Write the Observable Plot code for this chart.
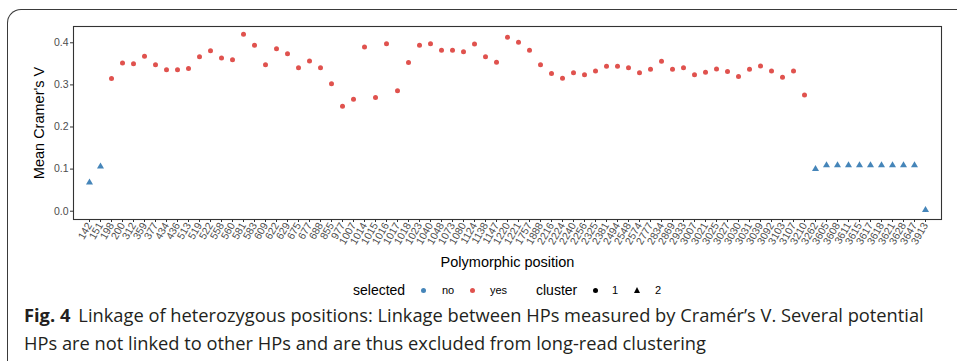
<!DOCTYPE html>
<html>
<head>
<meta charset="utf-8">
<script src="https://cdn.jsdelivr.net/npm/d3@7"></script>
<script src="https://cdn.jsdelivr.net/npm/@observablehq/plot@0.6"></script>
<style>
  html, body { margin: 0; padding: 0; background: #fff; }
  #page { position: relative; width: 957px; height: 361px; overflow: hidden; background: #fff; }
  #frame { position: absolute; left: 7px; top: 9px; width: 1000px; height: 400px;
           border-left: 1.2px solid #3a3a3a; border-top: 1.2px solid #3a3a3a; border-top-left-radius: 14px; }
  #chart { position: absolute; left: 0; top: 0; }
  #legend { position: absolute; left: 0; top: 280px; width: 957px; height: 20px;
            font-family: "Liberation Sans", Arial, sans-serif; color: #000; }
  #legend span { position: absolute; white-space: nowrap; }
  .ltitle { font-size: 14px; top: 2px; }
  .llab { font-size: 11px; top: 4px; }
  .ldot { width: 5px; height: 5px; border-radius: 50%; top: 8px; }
  .ltri { width: 0; height: 0; border-left: 3.4px solid transparent; border-right: 3.4px solid transparent; border-bottom: 6px solid #000; top: 7px; }
  #caption { position: absolute; left: 24px; top: 301px; font-family: "Open Sans", "Noto Sans", sans-serif;
             font-size: 18.3px; line-height: 27.5px; color: #231f20; white-space: nowrap; }
  #caption b { font-weight: 700; margin-right: 8px; }
</style>
</head>
<body>
<div id="page">
  <div id="frame"></div>
  <div id="chart"></div>
  <div id="legend"></div>
  <div id="caption"></div>
</div>
<script>
const positions = ["142","151","198","200","312","359","377","434","436","513","519","522","558","560","581","583","609","622","629","675","677","688","855","977","1007","1014","1015","1016","1017","1018","1023","1040","1048","1073","1080","1124","1138","1147","1220","1221","1757","1888","2216","2224","2240","2256","2325","2381","2494","2548","2574","2777","2834","2869","2933","3007","3021","3025","3027","3030","3031","3039","3092","3103","3107","3210","3262","3605","3608","3611","3615","3617","3618","3621","3628","3647","3913"];

const meanV = [0.068,0.106,0.315,0.352,0.350,0.368,0.348,0.336,0.336,0.339,0.367,0.381,0.364,0.360,0.420,0.394,0.348,0.386,0.374,0.341,0.357,0.341,0.303,0.249,0.266,0.390,0.270,0.398,0.286,0.353,0.394,0.398,0.382,0.382,0.379,0.397,0.367,0.354,0.413,0.401,0.382,0.348,0.327,0.316,0.329,0.324,0.333,0.344,0.344,0.341,0.329,0.337,0.356,0.337,0.341,0.324,0.330,0.338,0.332,0.320,0.337,0.345,0.333,0.318,0.333,0.276,0.100,0.109,0.109,0.109,0.109,0.109,0.109,0.109,0.109,0.109,0.003];

const selected = ["no","no",
  "yes","yes","yes","yes","yes","yes","yes","yes","yes","yes","yes","yes","yes","yes","yes","yes","yes","yes","yes","yes",
  "yes","yes","yes","yes","yes","yes","yes","yes","yes","yes","yes","yes","yes","yes","yes","yes","yes","yes","yes","yes",
  "yes","yes","yes","yes","yes","yes","yes","yes","yes","yes","yes","yes","yes","yes","yes","yes","yes","yes","yes","yes",
  "yes","yes","yes","yes",
  "no","no","no","no","no","no","no","no","no","no","no"];

const cluster = [2,2,
  1,1,1,1,1,1,1,1,1,1,1,1,1,1,1,1,1,1,1,1,
  1,1,1,1,1,1,1,1,1,1,1,1,1,1,1,1,1,1,1,1,
  1,1,1,1,1,1,1,1,1,1,1,1,1,1,1,1,1,1,1,1,
  1,1,1,1,
  2,2,2,2,2,2,2,2,2,2,2];

const selectedLevels = ["no", "yes"];
const clusterLevels = ["1", "2"];
const yTicks = [0, 0.1, 0.2, 0.3, 0.4];

const BLUE = "#4585b9", RED = "#e0524e";

const data = positions.map((p, i) => ({position: p, v: meanV[i], selected: selected[i], cluster: cluster[i]}));

const chart = Plot.plot({
  width: 957,
  height: 275,
  marginLeft: 73,
  marginRight: 16,
  marginTop: 26,
  marginBottom: 56,
  x: {type: "point", domain: positions, padding: 0.6},
  y: {domain: [-0.0197, 0.4387]},
  color: {domain: selectedLevels, range: [BLUE, RED]},
  style: {fontFamily: "'Liberation Sans', Arial, sans-serif", fontSize: "10.5px", color: "#4d4d4d", background: "transparent", overflow: "visible"},
  marks: [
    Plot.frame({stroke: "#333", strokeWidth: 1.1}),
    Plot.axisY({ticks: yTicks, tickFormat: d3.format(".1f"), tickSize: 3, tickPadding: 2, stroke: "#333",
                label: "Mean Cramer's V", labelAnchor: "center", labelArrow: "none", labelOffset: 40}),
    Plot.axisX({tickRotate: -60, tickSize: 3, tickPadding: 1, stroke: "#333",
                label: "Polymorphic position", labelAnchor: "center", labelArrow: "none", labelOffset: 47}),
    Plot.dot(data.filter(d => d.cluster === 1), {x: "position", y: "v", fill: "selected", symbol: "circle", r: 2.5}),
    Plot.dot(data.filter(d => d.cluster === 2), {x: "position", y: "v", fill: "selected", symbol: "triangle", r: 2.6})
  ]
});

for (const [lab, size] of [["y-axis label", "14.5px"], ["x-axis label", "14.5px"]]) {
  const g = chart.querySelector(`[aria-label="${lab}"]`);
  if (g) { g.setAttribute("font-size", size); g.setAttribute("fill", "#000"); g.style.fontSize = size; }
}
document.getElementById("chart").appendChild(chart);

// Legend (HTML, below the chart)
const legend = document.getElementById("legend");
function add(cls, left, text, style) {
  const s = document.createElement("span");
  s.className = cls; s.style.left = left + "px";
  if (text) s.textContent = text;
  if (style) Object.assign(s.style, style);
  legend.appendChild(s);
}
add("ltitle", 353, "selected");
add("ldot", 421, null, {background: BLUE});
add("llab", 442, selectedLevels[0]);
add("ldot", 470, null, {background: RED});
add("llab", 490, selectedLevels[1]);
add("ltitle", 536, "cluster");
add("ldot", 593, null, {background: "#000"});
add("llab", 612, clusterLevels[0]);
add("ltri", 634, null);
add("llab", 655, clusterLevels[1]);

// Caption
const cap = document.getElementById("caption");
cap.innerHTML = "<div><b>Fig. 4</b>Linkage of heterozygous positions: Linkage between HPs measured by Cramér’s V. Several potential</div>" +
                "<div>HPs are not linked to other HPs and are thus excluded from long-read clustering</div>";
</script>
</body>
</html>
